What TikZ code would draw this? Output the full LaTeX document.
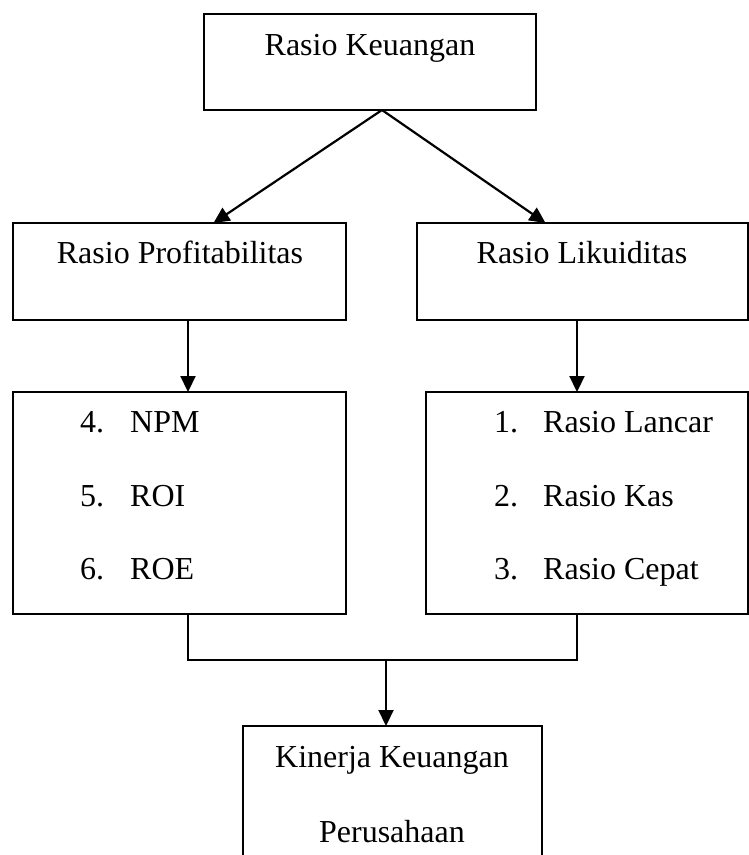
\documentclass[tikz,border=0pt]{standalone}
\usepackage{fontspec}
\setmainfont{Liberation Serif}
\usetikzlibrary{arrows.meta}
\begin{document}
\begin{tikzpicture}[x=1pt,y=-1pt,
  box/.style={draw,line width=1.8pt,rectangle,inner sep=0pt,outer sep=0pt,anchor=north west},
  txt/.style={inner sep=0pt,font=\fontsize{32}{36}\selectfont},
  conn/.style={line width=2.2pt},
  arr/.style={conn,-{Triangle[length=16pt,width=15pt]}}]
\path[use as bounding box,clip] (0,0) rectangle (749,855);
\fill[white] (0,0) rectangle (749,855);
% boxes
\node[box,minimum width=332pt,minimum height=96pt] (top) at (204,14) {};
\node[box,minimum width=333pt,minimum height=97pt] (pl) at (13,223) {};
\node[box,minimum width=331pt,minimum height=97pt] (lk) at (417,223) {};
\node[box,minimum width=333pt,minimum height=222pt] (np) at (13,392) {};
\node[box,minimum width=322pt,minimum height=222pt] (lq) at (426,392) {};
\node[box,minimum width=299pt,minimum height=160pt] (kin) at (243,726) {};
% texts
\node[txt,anchor=base] (t1) at (370,55) {Rasio Keuangan};
\node[txt,anchor=base] (t2) at (180,263) {Rasio Profitabilitas};
\node[txt,anchor=base] (t3) at (582,263) {Rasio Likuiditas};
\node[txt,anchor=base west] (n4) at (80,432) {4.};
\node[txt,anchor=base west] (i4) at (130,432) {NPM};
\node[txt,anchor=base west] (n5) at (80,506) {5.};
\node[txt,anchor=base west] (i5) at (130,506) {ROI};
\node[txt,anchor=base west] (n6) at (80,579) {6.};
\node[txt,anchor=base west] (i6) at (130,579) {ROE};
\node[txt,anchor=base west] (n1) at (494,432) {1.};
\node[txt,anchor=base west] (i1) at (543,432) {Rasio Lancar};
\node[txt,anchor=base west] (n2) at (494,506) {2.};
\node[txt,anchor=base west] (i2) at (543,506) {Rasio Kas};
\node[txt,anchor=base west] (n3) at (494,579) {3.};
\node[txt,anchor=base west] (i3) at (543,579) {Rasio Cepat};
\node[txt,anchor=base] (k1) at (392,767) {Kinerja Keuangan};
\node[txt,anchor=base] (k2) at (392,842) {Perusahaan};
% connectors
\coordinate (ts) at (382,110);
\coordinate (jl) at (188,660);
\coordinate (jr) at (577,660);
\coordinate (jm) at (386,660);
\draw[arr] (ts |- top.south) -- ([xshift=34pt]pl.north);
\draw[arr] (ts |- top.south) -- ([xshift=-37pt]lk.north);
\draw[arr] (jl |- pl.south) -- (jl |- np.north);
\draw[arr] (jr |- lk.south) -- (jr |- lq.north);
\draw[conn] (jl |- np.south) -- (jl) -- (jr) -- (jr |- lq.south);
\draw[arr] (jm) -- (jm |- kin.north);
\end{tikzpicture}
\end{document}
